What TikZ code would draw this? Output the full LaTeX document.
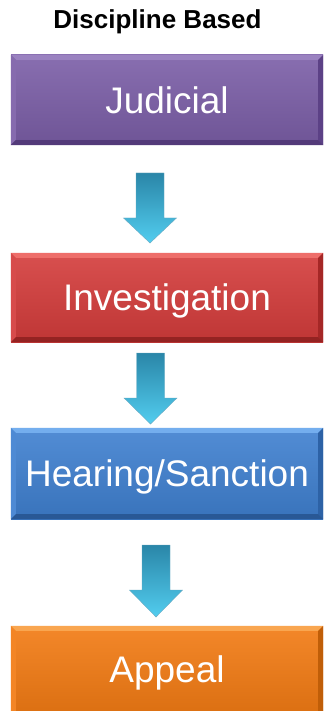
\documentclass[tikz,border=0pt]{standalone}
\usepackage{fontspec}
\setmainfont{Liberation Sans}
\definecolor{purpleM}{HTML}{7B5EA7}
\definecolor{purpleL}{HTML}{9A82C0}
\definecolor{purpleD}{HTML}{5C4186}
\definecolor{redM}{HTML}{D43C3B}
\definecolor{redL}{HTML}{EE6E6A}
\definecolor{redD}{HTML}{A52726}
\definecolor{blueM}{HTML}{3F80D0}
\definecolor{blueL}{HTML}{74AEEE}
\definecolor{blueD}{HTML}{2D62A6}
\definecolor{orangeM}{HTML}{F27A12}
\definecolor{orangeL}{HTML}{F9A650}
\definecolor{orangeD}{HTML}{C05E08}
\definecolor{arrowTop}{HTML}{2A86A8}
\definecolor{arrowBot}{HTML}{52CDEF}
\tikzset{
  stagebox/.style={minimum width=312pt, inner sep=0pt, text=white,
    font=\fontsize{37}{44}\selectfont, text height=26.5pt, text depth=0pt},
  titletext/.style={font=\fontsize{26}{30}\selectfont\bfseries, text=black, inner sep=0pt},
  blockarrow/.style={top color=arrowTop, bottom color=arrowBot, draw=arrowTop!70!white, line width=0.4pt}
}
% [#1 node options] #2 name, #3 top, #4 bottom, #5 main, #6 light, #7 dark, #8 text
\newcommand\mybevelbox[8][]{%
  \pgfmathsetmacro\bbh{#4-#3}%
  \pgfmathsetmacro\bbc{(#4+#3)/2}%
  \node[stagebox, minimum height=\bbh pt, top color=#5!90!white, bottom color=#5!90!black, #1] (#2) at (167,\bbc) {#8};
  \fill[#6] (#2.north west) -- (#2.north east) -- ([xshift=-5pt,yshift=-5pt]#2.north east) -- ([xshift=5pt,yshift=-5pt]#2.north west) -- cycle;
  \fill[#5!92!white] (#2.north west) -- ([xshift=5pt,yshift=-5pt]#2.north west) -- ([xshift=5pt,yshift=5pt]#2.south west) -- (#2.south west) -- cycle;
  \fill[#7] (#2.north east) -- (#2.south east) -- ([xshift=-5pt,yshift=5pt]#2.south east) -- ([xshift=-5pt,yshift=-5pt]#2.north east) -- cycle;
  \fill[#7!90!black] (#2.south west) -- ([xshift=5pt,yshift=5pt]#2.south west) -- ([xshift=-5pt,yshift=5pt]#2.south east) -- (#2.south east) -- cycle;
}
% #1 name, #2 x, #3 top, #4 head start, #5 tip
\newcommand\myblockarrow[5]{%
  \coordinate (#1-top) at (#2,#3);
  \coordinate (#1-tip) at (#2,#5);
  \shade[blockarrow] ([xshift=-14pt]#1-top) -- ([xshift=14pt]#1-top) -- (#2+14,#4) -- (#2+26.5,#4) -- (#1-tip) -- (#2-26.5,#4) -- (#2-14,#4) -- cycle;
}
\begin{document}
\begin{tikzpicture}[x=1pt,y=-1pt]
  \useasboundingbox (0,0) rectangle (328,711);
  \clip (0,0) rectangle (328,711);
  \fill[white] (0,0) rectangle (328,711);
  \node[titletext, anchor=base] (title) at (157.5,29) {Discipline Based};
  \mybevelbox{judicial}{55}{145}{purpleM}{purpleL}{purpleD}{Judicial}
  \mybevelbox{invest}{253}{342}{redM}{redL}{redD}{Investigation}
  \mybevelbox{hearing}{428}{519}{blueM}{blueL}{blueD}{Hearing/Sanction}
  \mybevelbox[text depth=8pt]{appeal}{626}{720}{orangeM}{orangeL}{orangeD}{Appeal}
  \myblockarrow{a1}{150}{173}{218}{243}
  \myblockarrow{a2}{150.5}{353}{398}{424}
  \myblockarrow{a3}{156}{545}{590}{617}
\end{tikzpicture}
\end{document}
